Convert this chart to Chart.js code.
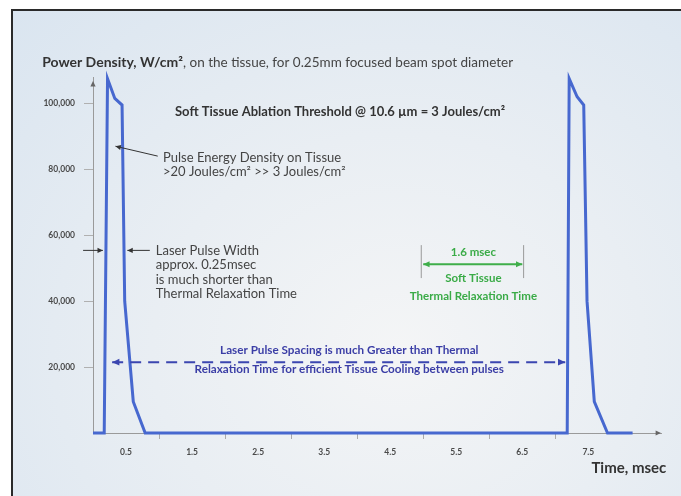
<!DOCTYPE html>
<html>
<head>
<meta charset="utf-8">
<script src="https://cdn.jsdelivr.net/npm/chart.js@4.4.1/dist/chart.umd.min.js"></script>
<style>
  html, body { margin: 0; padding: 0; background: #fff; }
  #wrap { position: relative; width: 681px; height: 496px; overflow: hidden; }
  #frame {
    position: absolute; left: 11px; top: 9px; width: 700px; height: 520px;
    border-top: 2px solid #2a2a2a; border-left: 2px solid #2a2a2a;
    background: radial-gradient(ellipse at 55% 65%, #f4f5f6 0%, #e9eef3 45%, #dae5f0 100%);
  }
  #c { position: absolute; left: 0; top: 0; }
</style>
</head>
<body>
<div id="wrap">
  <div id="frame"></div>
  <canvas id="c" width="681" height="496"></canvas>
</div>
<script>
// time in msec, power density in W/cm2
let pulseTime  = [0, 0.17, 0.22, 0.33, 0.44, 0.48, 0.61, 0.79, 7.18, 7.21, 7.33, 7.43, 7.48, 7.59, 7.79, 8.17]
let pulsePower = [0, 0, 107500, 101500, 99500, 40000, 9500, 0, 0, 107500, 102000, 99500, 40000, 9500, 0, 0]

let yTicks = [20000, 40000, 60000, 80000, 100000]
let xLabelTicks = [0.5, 1.5, 2.5, 3.5, 4.5, 5.5, 6.5, 7.5]
let xMarkTicks = [1, 2, 3, 4, 5, 6, 7]

let titleBold = "Power Density, W/cm\u00b2"
let titleRest = ", on the tissue, for 0.25mm focused beam spot diameter"
let thresholdText = "Soft Tissue Ablation Threshold @ 10.6 \u00b5m = 3 Joules/cm\u00b2"
let energyLines = ["Pulse Energy Density on Tissue", ">20 Joules/cm\u00b2 >> 3 Joules/cm\u00b2"]
let widthLines = ["Laser Pulse Width", "approx. 0.25msec", "is much shorter than", "Thermal Relaxation Time"]
let relaxLines = ["1.6 msec", "Soft Tissue", "Thermal Relaxation Time"]
let spacingLines = ["Laser Pulse Spacing is much Greater than Thermal", "Relaxation Time for efficient Tissue Cooling between pulses"]

const FONT = "Lato, 'Open Sans', sans-serif"

function arrowHead(ctx, x1, y1, x2, y2, size) {
  const a = Math.atan2(y2 - y1, x2 - x1)
  ctx.beginPath()
  ctx.moveTo(x2, y2)
  ctx.lineTo(x2 - size * Math.cos(a - 0.45), y2 - size * Math.sin(a - 0.45))
  ctx.lineTo(x2 - size * Math.cos(a + 0.45), y2 - size * Math.sin(a + 0.45))
  ctx.closePath()
  ctx.fill()
}

function arrow(ctx, x1, y1, x2, y2, opts) {
  ctx.save()
  ctx.strokeStyle = opts.color
  ctx.fillStyle = opts.color
  ctx.lineWidth = opts.width || 1
  if (opts.dash) ctx.setLineDash(opts.dash)
  ctx.beginPath()
  ctx.moveTo(x1, y1)
  ctx.lineTo(x2, y2)
  ctx.stroke()
  ctx.setLineDash([])
  arrowHead(ctx, x1, y1, x2, y2, opts.head || 6)
  if (opts.both) arrowHead(ctx, x2, y2, x1, y1, opts.head || 6)
  ctx.restore()
}

const notes = {
  id: 'notes',
  afterDraw(chart) {
    const ctx = chart.ctx
    const sx = chart.scales.x, sy = chart.scales.y
    const px = v => sx.getPixelForValue(v)
    const py = v => sy.getPixelForValue(v)
    const area = chart.chartArea
    ctx.save()
    ctx.textBaseline = 'middle'

    // axis arrow heads
    ctx.fillStyle = '#666'
    arrowHead(ctx, area.left, area.top + 10, area.left, area.top + 4, 6)
    arrowHead(ctx, area.right - 8, area.bottom, area.right, area.bottom, 6)

    // title line
    ctx.textAlign = 'left'
    ctx.fillStyle = '#333'
    ctx.font = 'bold 14px ' + FONT
    ctx.fillText(titleBold, px(-0.77), py(112400))
    let w = ctx.measureText(titleBold).width
    ctx.font = '13.5px ' + FONT
    ctx.fillStyle = '#444'
    ctx.fillText(titleRest, px(-0.77) + w, py(112400))

    // threshold
    ctx.textAlign = 'center'
    ctx.fillStyle = '#333'
    ctx.font = 'bold 13px ' + FONT
    ctx.fillText(thresholdText, px(3.74), py(97300))

    // pulse energy
    ctx.textAlign = 'left'
    ctx.fillStyle = '#444'
    ctx.font = '13px ' + FONT
    ctx.fillText(energyLines[0], px(1.06), py(83600))
    ctx.fillText(energyLines[1], px(1.06), py(79300))
    arrow(ctx, px(0.98), py(84000), px(0.34), py(87000), { color: '#333', width: 1, head: 6 })

    // pulse width
    let wy = [55400, 50900, 46600, 42200]
    widthLines.forEach((t, i) => ctx.fillText(t, px(0.95), py(wy[i])))
    arrow(ctx, px(-0.15), py(55400), px(0.15), py(55400), { color: '#333', width: 1, head: 6 })
    arrow(ctx, px(0.86), py(55400), px(0.52), py(55400), { color: '#333', width: 1, head: 6 })

    // relaxation time (green)
    ctx.strokeStyle = '#999'
    ctx.lineWidth = 1
    ctx.beginPath()
    ctx.moveTo(px(4.97), py(57000)); ctx.lineTo(px(4.97), py(47000))
    ctx.moveTo(px(6.52), py(57000)); ctx.lineTo(px(6.52), py(47000))
    ctx.stroke()
    arrow(ctx, px(5.0), py(51200), px(6.5), py(51200), { color: '#3fae4a', width: 2, head: 7, both: true })
    ctx.textAlign = 'center'
    ctx.fillStyle = '#3aab47'
    ctx.font = 'bold 11.5px ' + FONT
    ctx.fillText(relaxLines[0], px(5.76), py(54900))
    ctx.fillText(relaxLines[1], px(5.76), py(47000))
    ctx.fillText(relaxLines[2], px(5.76), py(41600))

    // pulse spacing (blue dashed)
    arrow(ctx, px(0.29), py(21500), px(7.15), py(21500), { color: '#3b46b0', width: 2, head: 8, both: true, dash: [11, 7] })
    ctx.fillStyle = '#3b3ea6'
    ctx.font = 'bold 11.7px ' + FONT
    ctx.fillText(spacingLines[0], px(3.88), py(25100))
    ctx.fillText(spacingLines[1], px(3.88), py(19300))

    // x axis title
    ctx.textAlign = 'right'
    ctx.fillStyle = '#333'
    ctx.font = 'bold 15px ' + FONT
    ctx.fillText("Time, msec", px(8.68), py(-10800))

    ctx.restore()
  }
}

const points = pulseTime.map((t, i) => ({ x: t, y: pulsePower[i] }))

new Chart(document.getElementById('c'), {
  type: 'scatter',
  data: {
    datasets: [{
      data: points,
      showLine: true,
      borderColor: '#4768cf',
      borderWidth: 3,
      pointRadius: 0,
      tension: 0,
      clip: false
    }]
  },
  options: {
    responsive: false,
    animation: false,
    layout: { padding: { top: 77, right: 20, left: 0, bottom: 0 } },
    plugins: { legend: { display: false }, tooltip: { enabled: false } },
    scales: {
      x: {
        type: 'linear',
        min: 0,
        max: 8.6,
        afterBuildTicks: s => { s.ticks = xLabelTicks.concat(xMarkTicks).sort((a, b) => a - b).map(v => ({ value: v })) },
        afterFit: s => { s.height = 63 },
        border: { display: true, color: '#9a9a9a', width: 1 },
        grid: {
          drawOnChartArea: false,
          tickLength: 6,
          color: c => (c.tick && Number.isInteger(c.tick.value)) ? '#aaa' : 'rgba(0,0,0,0)'
        },
        ticks: {
          autoSkip: false,
          maxRotation: 0,
          padding: 8,
          color: '#4a4a4a',
          font: { family: FONT, size: 8.5, weight: 'bold' },
          callback: v => xLabelTicks.includes(v) ? v.toFixed(1) : ''
        }
      },
      y: {
        min: 0,
        max: 108000,
        afterBuildTicks: s => { s.ticks = yTicks.map(v => ({ value: v })) },
        afterFit: s => { s.width = 93 },
        border: { display: true, color: '#9a9a9a', width: 1 },
        grid: { drawOnChartArea: false, tickLength: 9, color: '#b0b0b0' },
        ticks: {
          padding: 9,
          color: '#4a4a4a',
          font: { family: FONT, size: 8.5, weight: 'bold' },
          callback: v => v.toLocaleString('en-US')
        }
      }
    }
  },
  plugins: [notes]
})
</script>
</body>
</html>
